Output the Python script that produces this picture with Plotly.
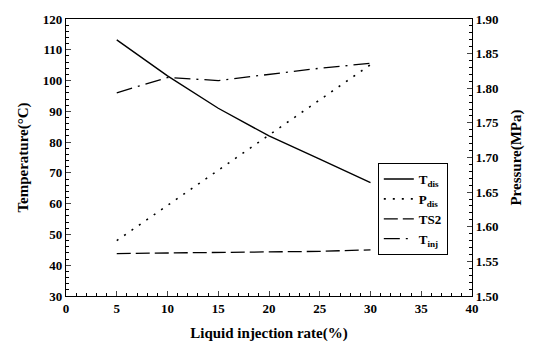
import plotly.graph_objects as go

rate = [5, 10, 15, 20, 25, 30]
t_dis = [113.2, 101.5, 91.0, 82.0, 74.5, 66.8]
p_dis = [1.580, 1.631, 1.682, 1.732, 1.783, 1.834]
ts2 = [43.8, 44.0, 44.1, 44.2, 44.5, 45.0]
t_inj = [96.0, 101.0, 100.0, 102.0, 104.0, 105.6]

x_ticks = [0, 5, 10, 15, 20, 25, 30, 35, 40]
font_family = "Liberation Serif"

fig = go.Figure()
fig.add_trace(go.Scatter(x=rate, y=t_dis, name="T<sub>dis</sub>", mode="lines",
                         line=dict(color="black", width=1.4)))
fig.add_trace(go.Scatter(x=rate, y=p_dis, name="P<sub>dis</sub>", mode="lines", yaxis="y2",
                         line=dict(color="black", width=1.6, dash="2px,7px")))
fig.add_trace(go.Scatter(x=rate, y=ts2, name="TS2", mode="lines",
                         line=dict(color="black", width=1.3, dash="14px,5px")))
fig.add_trace(go.Scatter(x=rate, y=t_inj, name="T<sub>inj</sub>", mode="lines",
                         line=dict(color="black", width=1.3, dash="16px,6px,2px,6px")))

tickfont = dict(family=font_family, size=13, color="black", weight="bold")
titlefont = dict(family=font_family, size=15, color="black", weight="bold")

fig.update_layout(
    width=533, height=354,
    margin=dict(l=66, r=61, t=13, b=58),
    plot_bgcolor="white", paper_bgcolor="white",
    showlegend=True,
    legend=dict(x=0.768, y=0.48, xanchor="left", yanchor="top",
                bordercolor="black", borderwidth=1, bgcolor="white",
                font=dict(family=font_family, size=13, color="black", weight="bold"),
                tracegroupgap=0, itemwidth=30),
    xaxis=dict(range=[0, 40], tickvals=x_ticks, ticks="inside", ticklen=5,
               showline=True, linecolor="black", linewidth=1.2, mirror=True,
               showgrid=False, zeroline=False, tickfont=tickfont,
               minor=dict(ticks="inside", dtick=1, ticklen=3, tickcolor="black"),
               title=dict(text="Liquid injection rate(%)", font=titlefont, standoff=12)),
    yaxis=dict(range=[30, 120], dtick=10, ticks="inside", ticklen=5,
               showline=True, linecolor="black", linewidth=1.2,
               showgrid=False, zeroline=False, tickfont=tickfont,
               minor=dict(ticks="inside", dtick=2, ticklen=3, tickcolor="black"),
               title=dict(text="Temperature(°C)", font=titlefont, standoff=10)),
    yaxis2=dict(range=[1.50, 1.90], dtick=0.05, tickformat=".2f", overlaying="y", side="right",
                ticks="inside", ticklen=5, showline=True, linecolor="black", linewidth=1.2,
                showgrid=False, zeroline=False, tickfont=tickfont,
                minor=dict(ticks="inside", dtick=0.01, ticklen=3, tickcolor="black"),
                title=dict(text="Pressure(MPa)", font=titlefont, standoff=12)),
)

fig.write_html("out.html")
